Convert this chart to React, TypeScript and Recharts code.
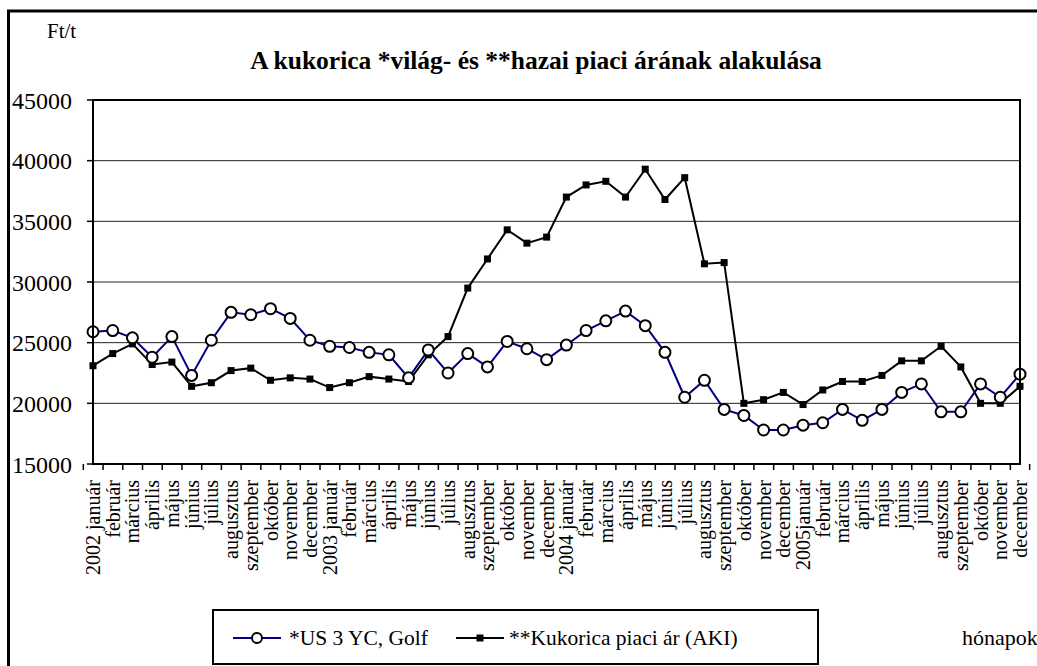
import { LineChart, Line, XAxis, YAxis, CartesianGrid } from 'recharts'

// hónapok 2002 január .. 2005 december
const months = [
  '2002 január', 'február', 'március', 'április', 'május', 'június', 'július', 'augusztus', 'szeptember', 'október', 'november', 'december',
  '2003 január', 'február', 'március', 'április', 'május', 'június', 'július', 'augusztus', 'szeptember', 'október', 'november', 'december',
  '2004 január', 'február', 'március', 'április', 'május', 'június', 'július', 'augusztus', 'szeptember', 'október', 'november', 'december',
  '2005január', 'február', 'március', 'április', 'május', 'június', 'július', 'augusztus', 'szeptember', 'október', 'november', 'december',
]

// *US 3 YC, Golf (Ft/t)
const usGolf = [
  25900, 26000, 25400, 23800, 25500, 22300, 25200, 27500, 27300, 27800, 27000, 25200,
  24700, 24600, 24200, 24000, 22100, 24400, 22500, 24100, 23000, 25100, 24500, 23600,
  24800, 26000, 26800, 27600, 26400, 24200, 20500, 21900, 19500, 19000, 17800, 17800,
  18200, 18400, 19500, 18600, 19500, 20900, 21600, 19300, 19300, 21600, 20500, 22400,
]

// **Kukorica piaci ár (AKI) (Ft/t)
const akiPrice = [
  23100, 24100, 24900, 23200, 23400, 21400, 21700, 22700, 22900, 21900, 22100, 22000,
  21300, 21700, 22200, 22000, 21800, 24000, 25500, 29500, 31900, 34300, 33200, 33700,
  37000, 38000, 38300, 37000, 39300, 36800, 38600, 31500, 31600, 20000, 20300, 20900,
  19900, 21100, 21800, 21800, 22300, 23500, 23500, 24700, 23000, 20000, 20000, 21400,
]

const yTicks = [15000, 20000, 25000, 30000, 35000, 40000, 45000]

const W = 1037
const H = 666
const PLOT_L = 93
const PLOT_R = 1020
const PLOT_T = 100
const PLOT_B = 464
const STEP = (PLOT_R - PLOT_L) / months.length
const FONT = "'Liberation Serif', Tinos, 'Times New Roman', 'DejaVu Serif', serif"
const NAVY = '#000080'

const data = months.map((m, i) => ({ month: m, us: usGolf[i], aki: akiPrice[i] }))

function MonthTick(props: any) {
  const { x, index, payload } = props
  const last = index === months.length - 1
  return (
    <g>
      <line x1={x - STEP / 2} y1={PLOT_B} x2={x - STEP / 2} y2={PLOT_B + 6} stroke='#000' strokeWidth={1.5} />
      {last && <line x1={x + STEP / 2} y1={PLOT_B} x2={x + STEP / 2} y2={PLOT_B + 6} stroke='#000' strokeWidth={1.5} />}
      <text x={x + 7} y={480} transform={`rotate(-90, ${x + 7}, 480)`} textAnchor='end'
        fontFamily={FONT} fontSize={20} fill='#000'>{payload.value}</text>
    </g>
  )
}

function SquareDot(props: any) {
  const { cx, cy, index } = props
  if (cx == null || cy == null) return <g key={index} />
  return <rect key={index} x={cx - 3.5} y={cy - 3.5} width={7} height={7} fill='#000' />
}

export default function App() {
  return (
    <div style={{ position: 'absolute', left: 0, top: 0, width: W, height: H, background: '#fff',
      overflow: 'hidden', fontFamily: FONT }}>
      <LineChart width={W} height={H} data={data}
        margin={{ top: PLOT_T, right: W - PLOT_R, left: 0, bottom: 0 }}>
        <CartesianGrid vertical={false} stroke='#222' strokeWidth={1} />
        <XAxis dataKey='month' interval={0} height={H - PLOT_B} tickLine={false}
          axisLine={{ stroke: '#000', strokeWidth: 2 }} tick={<MonthTick />} />
        <YAxis domain={[15000, 45000]} ticks={yTicks} width={PLOT_L} tickSize={6} tickMargin={15}
          axisLine={{ stroke: '#000', strokeWidth: 2 }} tickLine={{ stroke: '#000', strokeWidth: 1.5 }}
          tick={{ fontSize: 24, fill: '#000', fontFamily: FONT }} />
        <Line dataKey='aki' stroke='#000' strokeWidth={2} dot={<SquareDot />} isAnimationActive={false} />
        <Line dataKey='us' stroke={NAVY} strokeWidth={2}
          dot={{ r: 5.5, fill: '#fff', stroke: '#000', strokeWidth: 2 }} isAnimationActive={false} />
      </LineChart>

      <svg width={W} height={H} style={{ position: 'absolute', left: 0, top: 0, pointerEvents: 'none' }}
        fontFamily={FONT}>
        {/* keret */}
        <line x1={8.5} y1={11} x2={8.5} y2={H} stroke='#000' strokeWidth={3} />
        <line x1={7} y1={11} x2={W} y2={11} stroke='#000' strokeWidth={3} />
        <rect x={PLOT_L} y={PLOT_T} width={PLOT_R - PLOT_L} height={PLOT_B - PLOT_T} fill='none' stroke='#000' strokeWidth={2} />

        <text x={47} y={38} fontSize={21}>Ft/t</text>
        <text x={536} y={69} textAnchor='middle' fontSize={25.5} fontWeight='bold'>
          A kukorica *világ- és **hazai piaci árának alakulása
        </text>
        <text x={962} y={645} fontSize={22}>hónapok</text>

        {/* jelmagyarázat */}
        <rect x={213} y={610} width={605} height={54} fill='#fff' stroke='#000' strokeWidth={2} />
        <line x1={233} y1={638} x2={281} y2={638} stroke={NAVY} strokeWidth={2} />
        <circle cx={257} cy={638} r={5} fill='#fff' stroke='#000' strokeWidth={2} />
        <text x={289} y={645} fontSize={21.5}>*US 3 YC, Golf</text>
        <line x1={456} y1={638} x2={504} y2={638} stroke='#000' strokeWidth={2} />
        <rect x={476.5} y={634.5} width={7} height={7} fill='#000' />
        <text x={509} y={645} fontSize={21.5}>**Kukorica piaci ár (AKI)</text>
      </svg>
    </div>
  )
}
